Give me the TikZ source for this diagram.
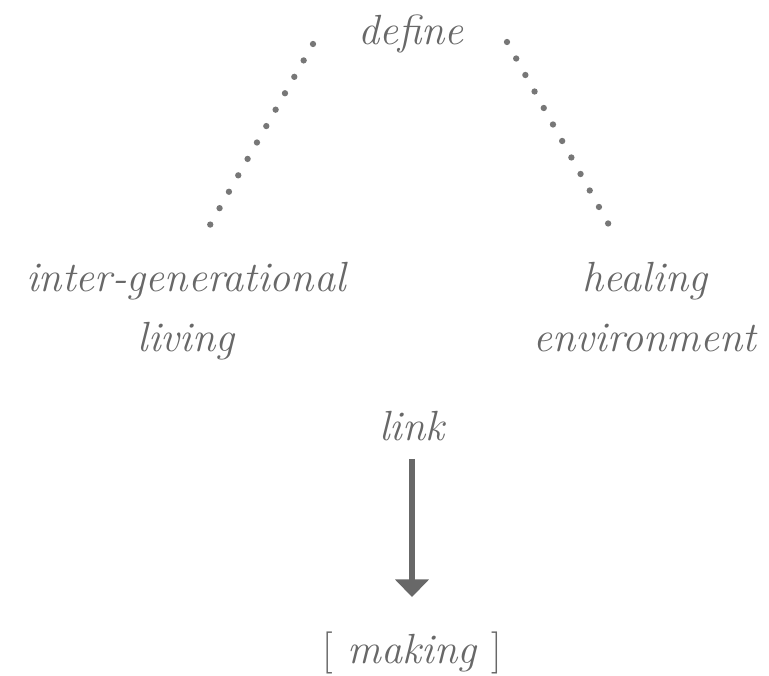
\documentclass[tikz,border=0pt]{standalone}
\usetikzlibrary{arrows.meta}
\definecolor{inkgray}{RGB}{104,104,104}
\begin{document}
\begin{tikzpicture}[x=0.02cm,y=-0.02cm]
  \tikzstyle{every node}=[inner sep=0pt, text=inkgray, align=center,
    font=\fontsize{24}{34}\selectfont\itshape]
  \tikzstyle{dotline}=[draw=inkgray!90, line width=3.6pt, line cap=round, dash pattern=on 0pt off 10.75pt]
  \tikzstyle{linkarrow}=[draw=inkgray, line width=3.4pt, -{Triangle[width=18.7pt,length=10pt]}]
  \useasboundingbox (0,0) rectangle (769,676);
  \node[anchor=base] (define) at (411,45) {define};
  \node[anchor=north] (inter) at (186,262) {inter-generational\\living};
  \node[anchor=north] (healing) at (645,262) {healing\\environment};
  \node[anchor=base] (link) at (412,440) {link};
  \node[anchor=base] (making) at (412,663) {{\upshape[} making {\upshape]}};
  \draw[dotline] ([shift={(-98,-1)}]define.base) -- ([shift={(24,-37)}]inter.north);
  \draw[dotline] ([shift={(96,-3)}]define.base) -- ([shift={(-36,-37)}]healing.north);
  \draw[linkarrow] ([shift={(0,18)}]link.south) -- ([shift={(0,-34)}]making.north);
\end{tikzpicture}
\end{document}
